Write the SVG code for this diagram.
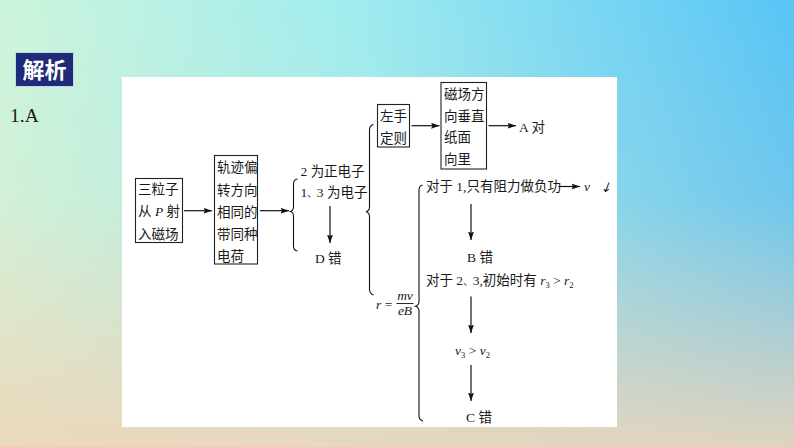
<svg xmlns="http://www.w3.org/2000/svg" width="794" height="447" viewBox="0 0 794 447">
<defs>
<linearGradient id="bgH" x1="0" y1="0" x2="1" y2="0">
<stop offset="0" stop-color="#cdf5dc"/>
<stop offset="0.45" stop-color="#9fecef"/>
<stop offset="1" stop-color="#58c4f6"/>
</linearGradient>
<linearGradient id="bgV" x1="0" y1="0" x2="0" y2="1">
<stop offset="0" stop-color="#f2d6b8" stop-opacity="0"/>
<stop offset="0.45" stop-color="#f2d6b8" stop-opacity="0.15"/>
<stop offset="1" stop-color="#efd5b8" stop-opacity="0.9"/>
</linearGradient>
<marker id="ah" markerUnits="userSpaceOnUse" markerWidth="9" markerHeight="7" refX="8.5" refY="3.5" orient="auto">
<path d="M0,0.5 L8.5,3.5 L0,6.5 L1.5,3.5 z" fill="#111"/>
</marker>
<style>
.cn{font-family:"Liberation Serif","Noto Sans CJK SC",serif;font-size:13.5px;fill:#1a1a1a}
.it{font-style:italic}
.cm{font-size:9.5px}
.box{fill:none;stroke:#222;stroke-width:1.1}
.ln{fill:none;stroke:#111;stroke-width:1.2}
.br{fill:none;stroke:#111;stroke-width:1.1}
</style>
</defs>
<rect width="794" height="447" fill="url(#bgH)"/>
<rect width="794" height="447" fill="url(#bgV)"/>
<g id="title">
<rect x="15.5" y="52.5" width="58" height="34" fill="#1e2b78" stroke="#c9d6e8" stroke-width="1"/>
<text x="44.5" y="78" text-anchor="middle" font-family="Noto Sans CJK SC, sans-serif" font-weight="bold" font-size="22" fill="#ffffff">解析</text>
</g>
<text x="10" y="121.5" font-family="Liberation Serif, serif" font-size="19.5" fill="#1a1a1a">1.A</text>
<rect id="panel" x="122" y="77" width="495" height="350" fill="#ffffff"/>

<g id="connectors">
<line class="ln" x1="184" y1="210.7" x2="212" y2="210.7" marker-end="url(#ah)"/>
<line class="ln" x1="260" y1="210.7" x2="289" y2="210.7" marker-end="url(#ah)"/>
<line class="ln" x1="330" y1="206" x2="330" y2="243" marker-end="url(#ah)"/>
<line class="ln" x1="411.5" y1="125.7" x2="439.5" y2="125.7" marker-end="url(#ah)"/>
<line class="ln" x1="488.5" y1="125.7" x2="516" y2="125.7" marker-end="url(#ah)"/>
<line class="ln" x1="558.5" y1="186.5" x2="580" y2="186.5" marker-end="url(#ah)"/>
<line class="ln" x1="471" y1="204" x2="471" y2="240" marker-end="url(#ah)"/>
<line class="ln" x1="471" y1="296.5" x2="471" y2="333" marker-end="url(#ah)"/>
<line class="ln" x1="471" y1="365" x2="471" y2="401" marker-end="url(#ah)"/>
<path class="br" d="M297.5,179 Q293.5,179.5 293.5,184 L293.5,206.5 Q293.5,210.5 290.5,211.5 Q293.5,212.5 293.5,216.5 L293.5,246 Q293.5,250.5 297.5,251"/>
<path class="br" d="M373.5,124.5 Q369.5,125.5 369.5,130 L369.5,207 Q369.5,210.8 366,211.7 Q369.5,212.6 369.5,216.5 L369.5,289 Q369.5,293.5 373.5,295"/>
<path class="br" d="M422.5,185 Q419,186 419,190 L419,301.5 Q419,305.2 415.5,306.2 Q419,307.2 419,311 L419,416 Q419,420 423,421"/>
</g>

<g id="n1">
<rect class="box" x="135.5" y="178.5" width="47" height="64"/>
<text class="cn" x="138" y="193.5">三粒子</text>
<text class="cn" x="138" y="216">从 <tspan class="it" font-family="Liberation Serif, serif">P</tspan> 射</text>
<text class="cn" x="138" y="238.5">入磁场</text>
</g>
<g id="n2">
<rect class="box" x="214.5" y="155.5" width="43" height="108.5"/>
<text class="cn" x="217" y="171.5">轨迹偏</text>
<text class="cn" x="217" y="194.5">转方向</text>
<text class="cn" x="217" y="216.5">相同的</text>
<text class="cn" x="217" y="239">带同种</text>
<text class="cn" x="217" y="261">电荷</text>
</g>
<g id="n3">
<text class="cn" x="300.5" y="176">2 为正电子</text>
<text class="cn" x="300.5" y="197">1<tspan class="cm">、</tspan>3 为电子</text>
</g>
<g id="n4">
<text class="cn" x="315" y="263">D 错</text>
</g>
<g id="n5">
<rect class="box" x="377.5" y="104.5" width="32" height="42.5"/>
<text class="cn" x="380" y="121">左手</text>
<text class="cn" x="380" y="142.5">定则</text>
</g>
<g id="n6">
<rect class="box" x="441" y="82.5" width="45.5" height="86.5"/>
<text class="cn" x="444" y="99">磁场方</text>
<text class="cn" x="444" y="120.5">向垂直</text>
<text class="cn" x="444" y="142">纸面</text>
<text class="cn" x="444" y="164">向里</text>
</g>
<g id="n7">
<text class="cn" x="519" y="131.5">A 对</text>
</g>
<g id="n8">
<text class="cn" x="376" y="308.5"><tspan class="it">r</tspan> =</text>
<text class="cn it" x="405" y="299.5" text-anchor="middle" font-size="11.5">mv</text>
<line x1="396.5" y1="303.5" x2="413.5" y2="303.5" stroke="#111" stroke-width="0.9"/>
<text class="cn it" x="405" y="315" text-anchor="middle" font-size="11.5">eB</text>
</g>
<g id="n9">
<text class="cn" x="426" y="191">对于 1,只有阻力做负功</text>
</g>
<g id="n10">
<text class="cn it" x="584" y="190.5">v</text>
<text x="0" y="0" transform="translate(600,192) skewX(-20)" font-family="DejaVu Sans, sans-serif" font-size="13" fill="#1a1a1a">↓</text>
</g>
<g id="n11">
<text class="cn" x="467" y="262">B 错</text>
</g>
<g id="n12">
<text class="cn" x="426" y="285">对于 2<tspan class="cm">、</tspan>3,初始时有 <tspan class="it">r</tspan><tspan font-size="8.5" dy="2.5">3</tspan><tspan dy="-2.5"> &gt; </tspan><tspan class="it">r</tspan><tspan font-size="8.5" dy="2.5">2</tspan></text>
</g>
<g id="n13">
<text class="cn" x="455" y="355"><tspan class="it">v</tspan><tspan font-size="8.5" dy="2.5">3</tspan><tspan dy="-2.5"> &gt; </tspan><tspan class="it">v</tspan><tspan font-size="8.5" dy="2.5">2</tspan></text>
</g>
<g id="n14">
<text class="cn" x="466" y="422">C 错</text>
</g>
</svg>
